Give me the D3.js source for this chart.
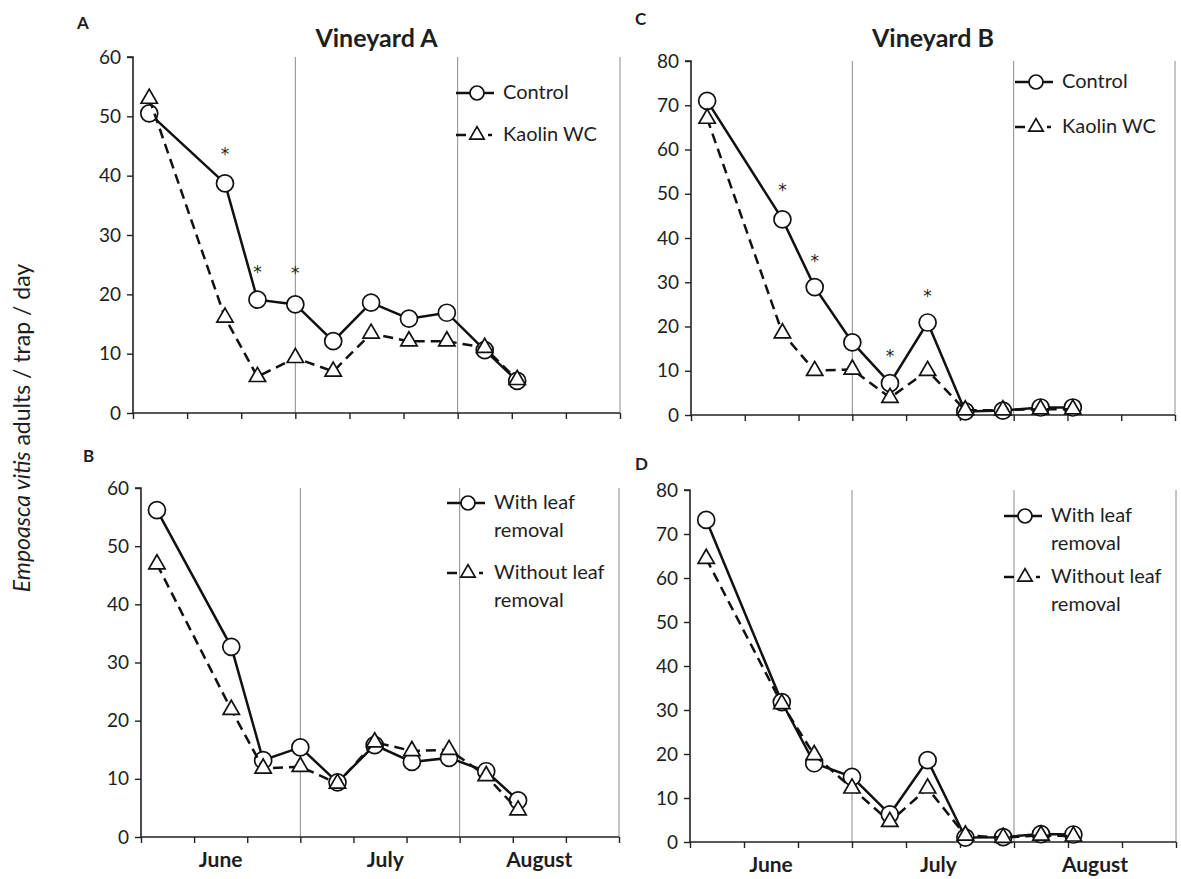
<!DOCTYPE html>
<html>
<head>
<meta charset="utf-8">
<script src="https://cdn.jsdelivr.net/npm/d3@7"></script>
<style>
  body { margin: 0; background: #fff; }
  svg { display: block; }
  text { font-family: Lato, "Open Sans", "DejaVu Sans", sans-serif; fill: #1e1e1e; }
</style>
</head>
<body>
<svg id="chart" width="1181" height="879"></svg>
<script>
// ---------- data ----------
const sampleDays = [3, 17, 23, 30, 37, 44, 51, 58, 65, 71];   // days after 1 June
const xTickDays = [0, 10, 20, 30, 40, 50, 60, 70, 80, 90];
const monthBoundaryDays = [30, 60, 90];
const monthNames = ["June", "July", "August"];
const monthCenterDays = [15, 46, 75];

const yTicks60 = [0, 10, 20, 30, 40, 50, 60];
const yTicks80 = [0, 10, 20, 30, 40, 50, 60, 70, 80];

const vineyardAControl     = [50.5, 38.7, 19.1, 18.3, 12.1, 18.6, 15.9, 16.9, 10.6, 5.4];
const vineyardAKaolin      = [53.0, 16.1, 6.1, 9.3, 7.0, 13.4, 12.1, 12.1, 11.0, 5.6];
const vineyardAWithLeaf    = [56.2, 32.7, 13.2, 15.4, 9.4, 15.8, 12.9, 13.6, 11.3, 6.3];
const vineyardAWithoutLeaf = [46.9, 21.9, 11.8, 12.1, 9.2, 16.3, 14.8, 15.0, 10.5, 4.6];
const vineyardBControl     = [71.0, 44.2, 28.9, 16.4, 7.2, 20.9, 0.8, 1.0, 1.7, 1.7];
const vineyardBKaolin      = [67.0, 18.5, 10.0, 10.3, 3.9, 10.0, 1.1, 1.1, 1.3, 1.3];
const vineyardBWithLeaf    = [73.2, 31.8, 17.9, 14.8, 6.3, 18.6, 1.0, 1.1, 1.8, 1.7];
const vineyardBWithoutLeaf = [64.4, 31.4, 19.8, 12.2, 4.6, 12.2, 1.5, 1.0, 1.5, 1.3];

// significance asterisks: sample index and height (y value) where drawn
const asteriskIndexA = [1, 2, 3];
const asteriskValueA = [44.3, 24.5, 24.2];
const asteriskIndexB = [1, 2, 4, 5];
const asteriskValueB = [51.8, 35.8, 14.3, 27.9];

const legendKaolin = ["Control", "Kaolin WC"];
const legendLeaf = [["With leaf", "removal"], ["Without leaf", "removal"]];

// ---------- drawing ----------
const svg = d3.select("#chart");
svg.append("rect").attr("width", 1181).attr("height", 879).attr("fill", "#fff");

const panels = [
  { letter: "A", title: "Vineyard A", x0: 133, x1: 620, yTop: 57, yBot: 413, yMax: 60, ticks: yTicks60,
    s1: vineyardAControl, s2: vineyardAKaolin, legend: legendKaolin, months: false,
    astIdx: asteriskIndexA, astVal: asteriskValueA, letterPos: [77, 29], legX: 456, legY: 93, rowGap: 42 },
  { letter: "C", title: "Vineyard B", x0: 691, x1: 1175, yTop: 61, yBot: 415, yMax: 80, ticks: yTicks80,
    s1: vineyardBControl, s2: vineyardBKaolin, legend: legendKaolin, months: false,
    astIdx: asteriskIndexB, astVal: asteriskValueB, letterPos: [635, 25], legX: 1015, legY: 82, rowGap: 45 },
  { letter: "B", title: null, x0: 141, x1: 619, yTop: 488, yBot: 837, yMax: 60, ticks: yTicks60,
    s1: vineyardAWithLeaf, s2: vineyardAWithoutLeaf, legend: legendLeaf, months: true,
    astIdx: [], astVal: [], letterPos: [83, 462], legX: 447, legY: 503, rowGap: 70 },
  { letter: "D", title: null, x0: 690, x1: 1176, yTop: 490, yBot: 842, yMax: 80, ticks: yTicks80,
    s1: vineyardBWithLeaf, s2: vineyardBWithoutLeaf, legend: legendLeaf, months: true,
    astIdx: [], astVal: [], letterPos: [635, 470], legX: 1004, legY: 516, rowGap: 61 }
];

const triangle = d3.symbol().type(d3.symbolTriangle).size(115);

panels.forEach(p => {
  const g = svg.append("g");
  const x = d3.scaleLinear().domain([0, 90]).range([p.x0, p.x1]);
  const y = d3.scaleLinear().domain([0, p.yMax]).range([p.yBot, p.yTop]);

  // month gridlines
  g.selectAll(".grid").data(monthBoundaryDays).join("line")
    .attr("x1", d => x(d)).attr("x2", d => x(d))
    .attr("y1", y(p.yMax)).attr("y2", y(0))
    .attr("stroke", "#8a8a8a").attr("stroke-width", 1);

  // y axis
  const yAxis = d3.axisLeft(y).tickValues(p.ticks).tickSize(6).tickPadding(6);
  const ya = g.append("g").attr("transform", `translate(${p.x0},0)`).call(yAxis);
  ya.select(".domain").attr("stroke", "#222").attr("stroke-width", 1.6)
    .attr("d", `M-6,${y(p.yMax)}H0V${y(0)}`);
  ya.selectAll(".tick line").attr("stroke", "#222").attr("stroke-width", 1.4);
  ya.selectAll(".tick text").attr("font-size", 19).attr("fill", "#222")
    .style("font-family", "Lato, 'Open Sans', sans-serif");

  // x axis
  const xAxis = d3.axisBottom(x).tickValues(xTickDays).tickSize(6).tickFormat("");
  const xa = g.append("g").attr("transform", `translate(0,${p.yBot})`).call(xAxis);
  xa.select(".domain").attr("stroke", "#222").attr("stroke-width", 1.6).attr("d", `M${p.x0},0H${p.x1}`);
  xa.selectAll(".tick line").attr("stroke", "#222").attr("stroke-width", 1.4);

  if (p.months) {
    g.selectAll(".month").data(monthNames).join("text")
      .attr("x", (d, i) => x(monthCenterDays[i])).attr("y", p.yBot + 30)
      .attr("text-anchor", "middle").attr("font-size", 21).attr("font-weight", "bold")
      .text(d => d);
  }

  // series
  const line = d3.line().x((d, i) => x(sampleDays[i])).y(d => y(d));
  // series 1: solid line + open circles
  g.append("path").datum(p.s1).attr("d", line).attr("fill", "none")
    .attr("stroke", "#111").attr("stroke-width", 2.5);
  g.selectAll(".c1").data(p.s1).join("circle")
    .attr("cx", (d, i) => x(sampleDays[i])).attr("cy", d => y(d)).attr("r", 8.5)
    .attr("fill", "#fff").attr("stroke", "#111").attr("stroke-width", 1.7);
  // series 2: dashed line + open triangles
  g.append("path").datum(p.s2).attr("d", line).attr("fill", "none")
    .attr("stroke", "#111").attr("stroke-width", 2.5).attr("stroke-dasharray", "10,6");
  g.selectAll(".t2").data(p.s2).join("path")
    .attr("d", triangle)
    .attr("transform", (d, i) => `translate(${x(sampleDays[i])},${y(d)})`)
    .attr("fill", "#fff").attr("stroke", "#111").attr("stroke-width", 1.7);

  // asterisks
  g.selectAll(".ast").data(p.astIdx).join("text")
    .attr("x", d => x(sampleDays[d]))
    .attr("y", (d, i) => y(p.astVal[i]) + 10)
    .attr("text-anchor", "middle").attr("font-size", 17).attr("fill", "#333")
    .style("font-family", "'DejaVu Sans', sans-serif")
    .text("*");

  // panel letter
  svg.append("text").attr("x", p.letterPos[0]).attr("y", p.letterPos[1])
    .attr("font-size", 17).attr("font-weight", "bold").text(p.letter);

  // title
  if (p.title) {
    svg.append("text").attr("x", (x(30) + x(60)) / 2).attr("y", 47)
      .attr("text-anchor", "middle").attr("font-size", 25).attr("font-weight", "bold")
      .text(p.title);
  }

  // legend
  const lg = svg.append("g").attr("transform", `translate(${p.legX},${p.legY})`);
  const twoLine = Array.isArray(p.legend[0]);
  p.legend.forEach((lab, k) => {
    const row = lg.append("g").attr("transform", `translate(0,${k * p.rowGap})`);
    if (k === 0) {
      row.append("line").attr("x1", 0).attr("x2", 38).attr("y1", 0).attr("y2", 0)
        .attr("stroke", "#111").attr("stroke-width", 2.5);
      row.append("circle").attr("cx", 21).attr("cy", 0).attr("r", 7)
        .attr("fill", "#fff").attr("stroke", "#111").attr("stroke-width", 1.7);
    } else {
      row.append("line").attr("x1", 0).attr("x2", 36).attr("y1", 0).attr("y2", 0)
        .attr("stroke", "#111").attr("stroke-width", 2.5).attr("stroke-dasharray", "10,6");
      row.append("path").attr("d", d3.symbol().type(d3.symbolTriangle).size(90))
        .attr("transform", "translate(21,0)")
        .attr("fill", "#fff").attr("stroke", "#111").attr("stroke-width", 1.7);
    }
    const lines = twoLine ? lab : [lab];
    lines.forEach((t, j) => {
      row.append("text").attr("x", 47).attr("y", 6 + j * 28)
        .attr("font-size", 20).text(t);
    });
  });
});

// y axis label
const yl = svg.append("text")
  .attr("transform", "translate(30,428) rotate(-90)")
  .attr("text-anchor", "middle").attr("font-size", 23);
yl.append("tspan").attr("font-style", "italic").text("Empoasca vitis");
yl.append("tspan").text(" adults / trap / day");
</script>
</body>
</html>
